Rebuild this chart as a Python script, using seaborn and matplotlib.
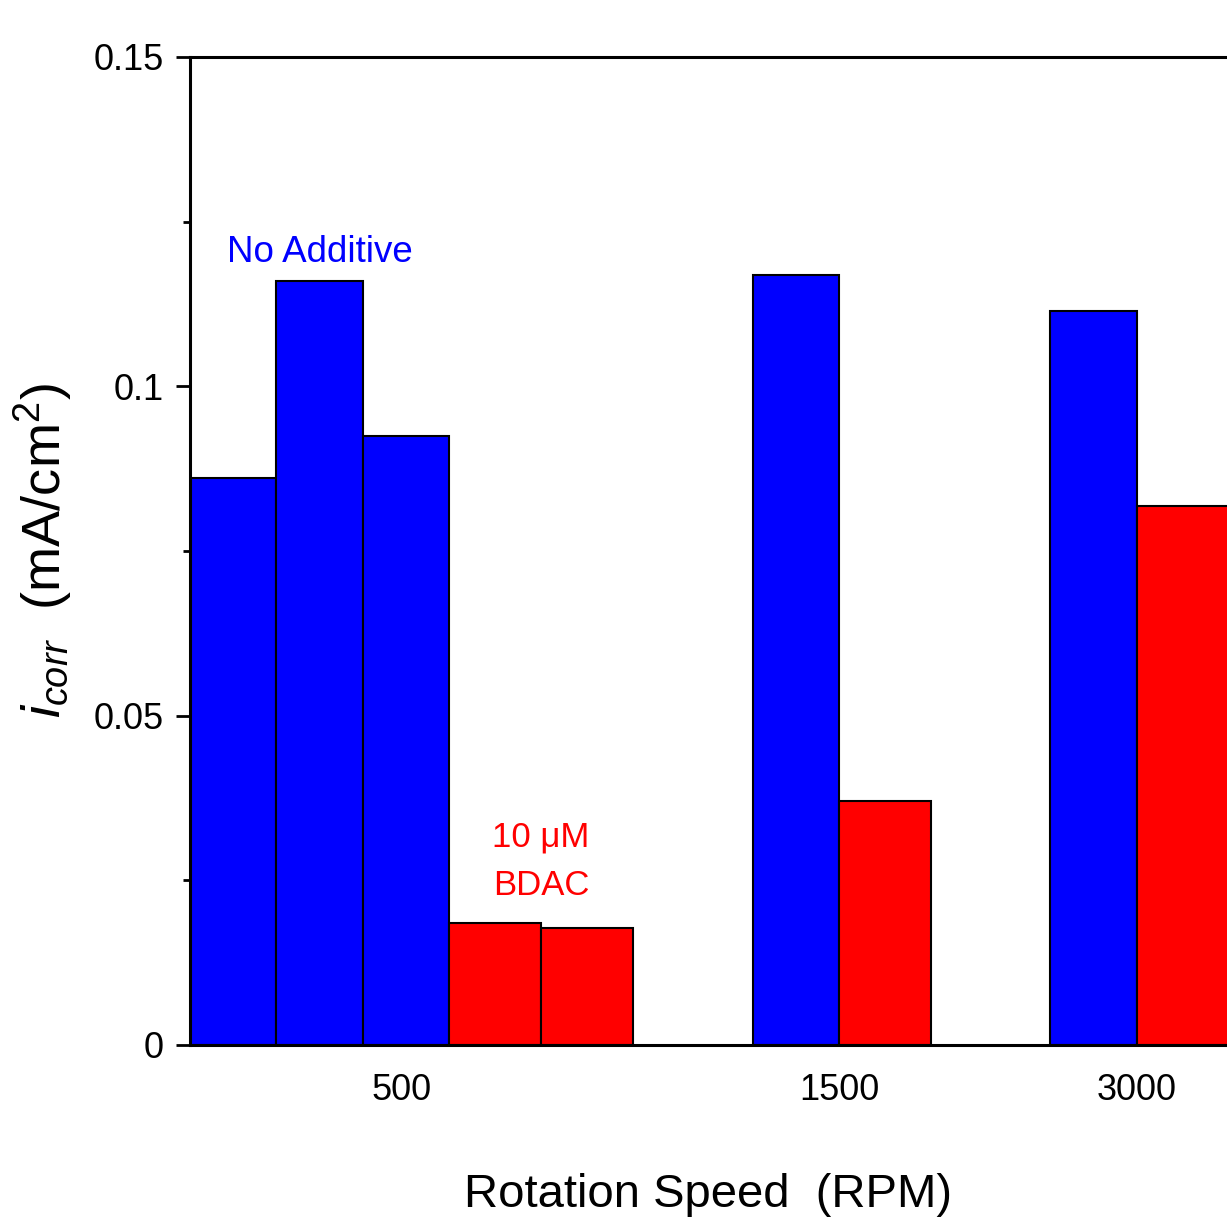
#!/usr/bin/env python3
import matplotlib

matplotlib.use("Agg")
import matplotlib.pyplot as plt
import seaborn as sns
from matplotlib.ticker import MultipleLocator


# bar heights (mA/cm2), in drawing order
RPM_LABELS = ["500", "1500", "3000"]
NO_ADDITIVE_RPM = ["500", "500", "500", "1500", "3000"]
NO_ADDITIVE_ICORR = [0.0861, 0.1160, 0.0925, 0.1169, 0.1114]
BDAC_RPM = ["500", "500", "1500", "3000"]
BDAC_ICORR = [0.0185, 0.0178, 0.0370, 0.0818]

BLUE_W = 0.96
RED_W = 1.02
GROUP_GAP = 1.33

sns.set_style("ticks")
FONT = ["Liberation Sans Narrow", "Liberation Sans", "DejaVu Sans"]
plt.rcParams["font.family"] = FONT
plt.rcParams["mathtext.fontset"] = "custom"
plt.rcParams["mathtext.rm"] = "Liberation Sans"
plt.rcParams["mathtext.it"] = "Liberation Sans:italic"
plt.rcParams["text.color"] = "black"
plt.rcParams["axes.labelcolor"] = "black"
plt.rcParams["xtick.color"] = "black"
plt.rcParams["ytick.color"] = "black"


def layout_bars():
    # lay the bars out left to right, blue run then red run per rpm group
    blue_x, red_x, ticks, first_red = [], [], [], []
    x = 0.0
    for rpm in RPM_LABELS:
        n_blue = NO_ADDITIVE_RPM.count(rpm)
        n_red = BDAC_RPM.count(rpm)
        for _ in range(n_blue):
            blue_x.append(x)
            x += BLUE_W
        ticks.append(x - (0.55 * BLUE_W if n_blue > 1 else 0.0))
        first_red.append(x + RED_W)
        for _ in range(n_red):
            red_x.append(x)
            x += RED_W
        x += GROUP_GAP
    return blue_x, red_x, ticks, first_red


blue_x, red_x, tick_x, first_red_end = layout_bars()

fig = plt.figure(figsize=(12.27, 12.23), dpi=100)
ax = fig.add_axes([190 / 1227, 178 / 1223, 1037 / 1227, 988 / 1223])

ax.bar(blue_x, NO_ADDITIVE_ICORR, width=BLUE_W, align="edge",
       color="#0000ff", edgecolor="black", linewidth=1.5, zorder=2)
ax.bar(red_x, BDAC_ICORR, width=RED_W, align="edge",
       color="#ff0000", edgecolor="black", linewidth=1.5, zorder=2)

ax.set_xlim(0, 1037 / 90)
ax.set_ylim(0, 0.15)
ax.set_xticks(tick_x)
ax.set_xticklabels(RPM_LABELS)
ax.set_yticks([0, 0.05, 0.1, 0.15])
ax.set_yticklabels(["0", "0.05", "0.1", "0.15"])
ax.yaxis.set_minor_locator(MultipleLocator(0.025))

ax.tick_params(axis="x", length=0, pad=20, labelsize=26)
ax.tick_params(axis="y", which="major", direction="out", length=10, width=2,
               pad=9, labelsize=26)
ax.tick_params(axis="y", which="minor", direction="out", length=5, width=2)

for side in ["left", "bottom", "top"]:
    ax.spines[side].set_linewidth(2.2)
    ax.spines[side].set_color("black")
ax.spines["right"].set_visible(False)

ax.set_xlabel("Rotation Speed  (RPM)", fontsize=34, labelpad=47)
ax.set_ylabel(r"$i_{corr}$  (mA/cm$^2$)", fontsize=39, labelpad=14)

# labels for the two series
ax.annotate("No Additive", xy=(blue_x[1] + BLUE_W / 2, NO_ADDITIVE_ICORR[1]),
            xytext=(0, 14), textcoords="offset points", ha="center",
            va="baseline", color="#0000ff", fontsize=26.5)
ax.annotate("10 \u03bcM\nBDAC", xy=(first_red_end[0], BDAC_ICORR[0]),
            xytext=(0, 20), textcoords="offset points", ha="center",
            va="baseline", color="#ff0000", fontsize=25, linespacing=1.6,
            multialignment="center")

fig.patch.set_facecolor("white")
fig.savefig("out.png", dpi=100)
plt.close(fig)
